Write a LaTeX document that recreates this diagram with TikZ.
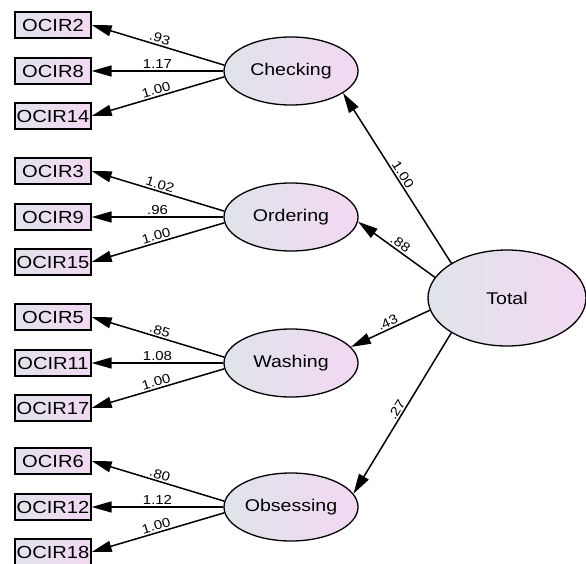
\documentclass[tikz,border=0pt]{standalone}
\usepackage{fontspec}
\newfontfamily\amosfont[FakeStretch=1.15]{Liberation Sans}
\usetikzlibrary{arrows.meta, positioning, shapes.geometric}
\definecolor{shadeL}{HTML}{E0E4EA}
\definecolor{shadeR}{HTML}{F2D8F2}

\begin{document}
\begin{tikzpicture}[
        x = 1pt, y = -1pt,
        on grid,
        node distance = 146pt,
        >= {Triangle[length = 20pt, width = 11pt]},
        every edge/.style = {draw, line width = 1.5pt},
        latent/.style = {ellipse, draw, line width = 1.3pt, inner sep = 0pt,
            minimum width = 134pt, minimum height = 68pt,
            left color = shadeL, right color = shadeR,
            font = \amosfont\fontsize{17}{17}\selectfont},
        item/.style = {rectangle, draw, line width = 1.3pt, inner sep = 0pt,
            minimum width = 76pt, minimum height = 26pt,
            left color = shadeL, right color = shadeR,
            font = \amosfont\fontsize{17.5}{17.5}\selectfont},
        coef/.style = {sloped, above, inner sep = 1.5pt,
            font = \amosfont\fontsize{13}{13}\selectfont}
    ]

      \useasboundingbox (0,0) rectangle (586,564);

      % first-order factors
      \node[latent] (chk) at (291,71) {Checking};
      \node[latent] (ord) [below = of chk] {Ordering};
      \node[latent] (was) [below = of ord] {Washing};
      \node[latent] (obs) [below = 144pt of was] {Obsessing};

      % second-order factor
      \node[latent, minimum width = 158pt, minimum height = 96pt] (tot) at (507,298) {Total};

      % items
      \node[item] (o8)  [left = 238pt of chk] {OCIR8};
      \node[item] (o2)  [above = 46pt of o8]  {OCIR2};
      \node[item] (o14) [below = 45pt of o8]  {OCIR14};

      \node[item] (o9)  [left = 238pt of ord] {OCIR9};
      \node[item] (o3)  [above = 46pt of o9]  {OCIR3};
      \node[item] (o15) [below = 45pt of o9]  {OCIR15};

      \node[item] (o11) [left = 238pt of was] {OCIR11};
      \node[item] (o5)  [above = 46pt of o11] {OCIR5};
      \node[item] (o17) [below = 45pt of o11] {OCIR17};

      \node[item] (o12) [left = 238pt of obs] {OCIR12};
      \node[item] (o6)  [above = 46pt of o12] {OCIR6};
      \node[item] (o18) [below = 45pt of o12] {OCIR18};

      \path[->] (chk.175)  edge node[coef] {.93}  (o2.east)
                (chk.west) edge node[coef] {1.17} (o8.east)
                (chk.185)  edge node[coef] {1.00} (o14.east)
                (ord.175)  edge node[coef] {1.02} (o3.east)
                (ord.west) edge node[coef] {.96}  (o9.east)
                (ord.185)  edge node[coef] {1.00} (o15.east)
                (was.175)  edge node[coef] {.85}  (o5.east)
                (was.west) edge node[coef] {1.08} (o11.east)
                (was.185)  edge node[coef] {1.00} (o17.east)
                (obs.175)  edge node[coef] {.80}  (o6.east)
                (obs.west) edge node[coef] {1.12} (o12.east)
                (obs.185)  edge node[coef] {1.00} (o18.east);

      \path[->] (tot.148) edge node[coef] {1.00} (chk.-23)
                (tot.164) edge node[coef] {.88}  (ord.-4)
                (tot.189) edge node[coef] {.43}  (was.15)
                (tot.212) edge node[coef] {.27}  (obs.12);

    \end{tikzpicture}
\end{document}
